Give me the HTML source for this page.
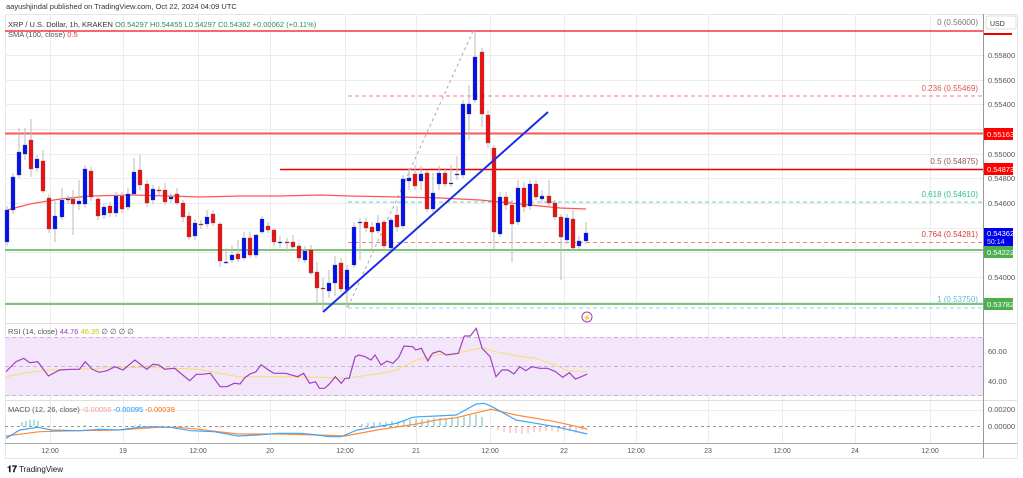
<!DOCTYPE html>
<html><head><meta charset="utf-8"><style>
html,body{margin:0;padding:0;background:#fff;width:1023px;height:478px;overflow:hidden;font-family:"Liberation Sans",sans-serif;}
svg text{font-family:"Liberation Sans",sans-serif;}
</style></head><body>
<svg id="s" width="1023" height="478" xmlns="http://www.w3.org/2000/svg">
<rect x="0" y="0" width="1023" height="478" fill="#fff"/>
<text x="6" y="9" font-size="7.5" fill="#333">aayushjindal published on TradingView.com, Oct 22, 2024 04:09 UTC</text>
<rect x="5.5" y="14.5" width="1012" height="444" fill="none" stroke="#e6e6e6"/>
<g id="grid" stroke="#ececec" stroke-width="1"></g>
<rect x="5" y="337" width="978" height="59" fill="#f3e6fb"/>
<line x1="5" y1="337.5" x2="983" y2="337.5" stroke="#c9b3d6" stroke-dasharray="4,3"/>
<line x1="5" y1="366.5" x2="983" y2="366.5" stroke="#c9b3d6" stroke-dasharray="4,3"/>
<line x1="5" y1="395.5" x2="983" y2="395.5" stroke="#c9b3d6" stroke-dasharray="4,3"/>
<line x1="5" y1="323.5" x2="1017" y2="323.5" stroke="#e0e0e0"/>
<line x1="5" y1="400.5" x2="1017" y2="400.5" stroke="#e0e0e0"/>
<line x1="5" y1="426.5" x2="983" y2="426.5" stroke="#999" stroke-dasharray="3,3"/>
<line x1="5" y1="443.5" x2="1017" y2="443.5" stroke="#aaa"/>
<line x1="983.5" y1="14" x2="983.5" y2="458" stroke="#999"/>
<line x1="5" y1="31" x2="983" y2="31" stroke="#f23645" stroke-width="1.5"/>
<line x1="348" y1="96" x2="983" y2="96" stroke="#f28080" stroke-dasharray="4,3"/>
<line x1="5" y1="133.5" x2="983" y2="133.5" stroke="#f55" stroke-width="2"/>
<line x1="280" y1="169.5" x2="983" y2="169.5" stroke="#e00" stroke-width="1.5"/>
<line x1="348" y1="202" x2="983" y2="202" stroke="#5fd3b0" stroke-dasharray="4,3"/>
<line x1="348" y1="242.5" x2="983" y2="242.5" stroke="#f28080" stroke-dasharray="4,3"/>
<line x1="5" y1="250" x2="983" y2="250" stroke="#7cc47c" stroke-width="2"/>
<line x1="5" y1="304" x2="983" y2="304" stroke="#7cc47c" stroke-width="2"/>
<line x1="348" y1="308" x2="983" y2="308" stroke="#8fd0f0" stroke-dasharray="4,3"/>
<line x1="348" y1="307" x2="473" y2="31" stroke="#aaa" stroke-dasharray="3,3"/>
<g font-size="8" text-anchor="end">
<text x="978" y="25" fill="#777">0 (0.56000)</text>
<text x="978" y="91" fill="#e05555">0.236 (0.55469)</text>
<text x="978" y="164" fill="#8a5a5a">0.5 (0.54875)</text>
<text x="978" y="197" fill="#2fbf90">0.618 (0.54610)</text>
<text x="978" y="237" fill="#d04040">0.764 (0.54281)</text>
<text x="978" y="302" fill="#6ab8e0">1 (0.53750)</text>
</g>
<g id="sma"></g>
<g id="candles"></g>
<line x1="323" y1="312" x2="548" y2="112" stroke="#1a2ee6" stroke-width="2"/>
<circle cx="587" cy="317" r="5" fill="none" stroke="#a040c0"/>
<text x="587" y="320" font-size="7" fill="#a040c0" text-anchor="middle">⚡</text>
<g id="ind"></g>
<text x="8" y="27" font-size="7.5" fill="#333">XRP / U.S. Dollar, 1h, KRAKEN  <tspan fill="#2a8a5a">O0.54297  H0.54455  L0.54297  C0.54362  +0.00062 (+0.11%)</tspan></text>
<text x="8" y="37" font-size="7.5" fill="#555">SMA (100, close)  <tspan fill="#f23645">0.5</tspan></text>
<text x="8" y="334" font-size="7.5" fill="#555">RSI (14, close)  <tspan fill="#a040c0">44.76</tspan>  <tspan fill="#d8c000">46.35</tspan>  ∅  ∅  ∅  ∅</text>
<text x="8" y="412" font-size="7.5" fill="#555">MACD (12, 26, close)  <tspan fill="#f4a0a0">-0.00056</tspan>  <tspan fill="#2196f3">-0.00095</tspan>  <tspan fill="#ff6d00">-0.00039</tspan></text>
<rect x="986" y="16" width="30" height="13" fill="#fff" stroke="#ddd" rx="2"/>
<text x="990" y="26" font-size="7" fill="#333">USD</text>
<line x1="984" y1="34" x2="1012" y2="34" stroke="#e00" stroke-width="2"/>
<g font-size="7.5" fill="#555" id="pax">
<text x="988" y="58">0.55800</text><text x="988" y="83">0.55600</text><text x="988" y="107">0.55400</text>
<text x="988" y="157">0.55000</text><text x="988" y="181">0.54800</text><text x="988" y="206">0.54600</text>
<text x="988" y="280">0.54000</text>
<text x="988" y="354">60.00</text><text x="988" y="384">40.00</text>
<text x="988" y="412">0.00200</text><text x="988" y="429">0.00000</text>
</g>
<rect x="984" y="128" width="29" height="12" fill="#f00"/><text x="987" y="137" font-size="7.5" fill="#fff">0.55163</text>
<rect x="984" y="163" width="29" height="12" fill="#f00"/><text x="987" y="172" font-size="7.5" fill="#fff">0.54873</text>
<rect x="984" y="228" width="29" height="18" fill="#0000f0"/><text x="987" y="236" font-size="7.5" fill="#fff">0.54362</text><text x="987" y="244" font-size="7" fill="#dde">50:14</text>
<rect x="984" y="246" width="29" height="12" fill="#4caf50"/><text x="987" y="255" font-size="7.5" fill="#fff">0.54222</text>
<rect x="984" y="298" width="29" height="12" fill="#4caf50"/><text x="987" y="307" font-size="7.5" fill="#fff">0.53782</text>
<g font-size="7" fill="#555" text-anchor="middle">
<text x="50" y="453">12:00</text><text x="123" y="453">19</text><text x="198" y="453">12:00</text><text x="270" y="453">20</text>
<text x="345" y="453">12:00</text><text x="416" y="453">21</text><text x="490" y="453">12:00</text><text x="564" y="453">22</text>
<text x="636" y="453">12:00</text><text x="708" y="453">23</text><text x="782" y="453">12:00</text><text x="855" y="453">24</text><text x="930" y="453">12:00</text>
</g>
<text x="7" y="472" font-size="9" font-weight="bold" fill="#131722">𝟏𝟕</text>
<text x="19" y="472" font-size="8" fill="#131722">TradingView</text>
</svg>
<script>
var NS="http://www.w3.org/2000/svg";
function el(p,t,a){var e=document.createElementNS(NS,t);for(var k in a)e.setAttribute(k,a[k]);document.getElementById(p).appendChild(e);return e;}
[50,123,198,270,345,416,490,564,636,708,782,855,930].forEach(function(x){el("grid","line",{x1:x+.5,y1:14,x2:x+.5,y2:443});});
for(var p=0.538;p<=0.5581;p+=0.002){var y=Math.round(55+(0.558-p)*12333)+.5;el("grid","line",{x1:5,y1:y,x2:983,y2:y});}
[352,381].forEach(function(y){el("grid","line",{x1:5,y1:y+.5,x2:983,y2:y+.5});});
el("grid","line",{x1:5,y1:410.5,x2:983,y2:410.5});
var C=[[7,210,242,1],[13,177,210,1],[19,152,175,1,128,178],[25,145,154,1,128,160],[31,140,169,0,119,177],[37,159,168,1],[43,161,191,0,150,193],[49,198,229,0],[55,216,229,1,200,242],[62,200,217,1,188,220],[68,199,200,1],[73,199,204,0,190,235],[79,201,204,1,180,210],[85,169,204,1],[91,171,197,0],[98,199,216,0],[104,207,215,1],[110,206,213,0],[116,196,213,1],[122,196,209,0],[128,194,207,1,188,210],[134,172,194,1,158,196],[140,170,185,0,155,190],[147,184,203,0],[153,189,200,1],[159,190,191,0],[165,190,202,0,183,205],[171,197,199,1],[177,194,203,0,188,205],[183,203,217,0,200,222],[189,216,237,0,212,240],[195,223,236,1],[201,224,225,0],[207,217,224,1,210,228],[213,214,223,0,210,226],[220,224,261,0,222,267],[226,262,263,1,248,264],[232,255,260,1,245,263],[238,254,259,0,240,262],[244,238,258,1,232,260],[250,238,255,0,232,258],[256,235,255,1,234,258],[262,219,232,1,216,234],[268,226,230,0,222,233],[274,230,242,0,228,246],[280,242,243,1,236,248],[287,242,243,0,238,252],[293,242,247,0,235,250],[299,246,258,0,243,262],[305,251,260,1,246,263],[311,250,273,0,245,275],[317,272,288,0,262,305],[323,288,289,0,278,310],[329,283,291,1,270,298],[335,265,283,1,256,296],[341,263,289,0,258,292],[347,270,290,1,265,308],[354,227,265,1,222,268],[360,222,223,1,218,260],[366,222,228,0,218,232],[372,227,232,0,222,250],[378,223,231,1,215,234],[384,222,246,0,220,250],[391,220,248,1,218,250],[397,215,227,0,206,232],[403,179,226,1,175,228],[409,178,181,1,168,190],[415,174,186,0,165,190],[421,174,181,1,166,190],[427,173,209,0,170,212],[433,193,209,1,173,212],[439,173,184,1,166,190],[445,173,184,0,168,187],[451,183,184,1,165,187],[457,174,175,1,156,180],[463,104,175,1,100,178],[469,104,114,1,85,140],[475,57,100,1,31,103],[482,52,114,0,48,127],[488,115,143,0,110,148],[494,148,232,0,145,250],[500,197,234,1,192,237],[506,197,205,0,192,210],[512,205,224,0,200,262],[518,188,222,1,180,225],[524,188,207,0,182,212],[530,184,206,1,180,210],[536,184,197,0,180,200],[542,196,199,1,190,203],[549,196,203,0,180,206],[555,203,217,0,200,220],[561,217,237,0,214,280],[567,218,240,1,214,244],[573,219,248,0,210,250],[579,241,246,1,236,250],[586,233,241,1,222,244]];
C.forEach(function(c){var col=c[3]?"#0010f0":"#ee1010";var hi=c[4]||c[1]-4,lo=c[5]||c[2]+4;
el("candles","line",{x1:c[0],y1:hi,x2:c[0],y2:lo,stroke:"#bbb","stroke-width":1});
el("candles","rect",{x:c[0]-2,y:c[1],width:4,height:Math.max(1,c[2]-c[1]),fill:col,stroke:"#555","stroke-width":0.3});});
el("sma","polyline",{points:"7,210 30,204 60,199 90,196 130,195 170,196 200,197 240,196 280,196 320,195 350,196 400,197 440,198 480,200 500,202 530,205 560,208 586,209",fill:"none",stroke:"#f55","stroke-width":1.2});
function P(a){return a.map(function(p){return (p[0]/2.52).toFixed(1)+","+(320+p[1]/3).toFixed(1);}).join(" ");}
var rsi=[[15,155],[40,125],[60,115],[75,128],[95,125],[122,168],[150,150],[180,148],[200,148],[215,125],[232,148],[250,157],[270,152],[290,140],[310,150],[340,120],[370,148],[385,133],[400,135],[415,148],[440,145],[478,182],[495,163],[510,163],[530,160],[555,200],[572,200],[590,190],[605,192],[617,173],[630,162],[645,155],[658,134],[670,145],[690,160],[720,160],[750,170],[765,160],[780,190],[795,185],[805,205],[818,205],[830,192],[845,170],[860,190],[870,175],[880,175],[895,110],[905,105],[920,110],[935,120],[945,105],[960,135],[975,123],[990,130],[1005,112],[1018,78],[1040,80],[1048,90],[1062,85],[1078,123],[1090,100],[1108,93],[1125,105],[1155,100],[1170,48],[1185,48],[1200,25],[1215,85],[1235,110],[1250,170],[1265,150],[1280,150],[1295,162],[1310,140],[1325,152],[1340,140],[1360,145],[1380,145],[1400,155],[1418,172],[1435,158],[1450,177],[1465,170],[1480,162]];
var rma=[[15,170],[60,160],[120,150],[200,148],[300,142],[400,143],[500,148],[600,170],[700,170],[800,172],[870,175],[950,162],[1000,150],[1050,120],[1100,105],[1150,100],[1215,83],[1250,95],[1300,107],[1350,115],[1400,135],[1430,152],[1480,155]];
var mb=[[15,355],[50,330],[95,322],[130,330],[200,332],[250,328],[300,330],[350,322],[390,320],[430,322],[480,332],[540,335],[600,348],[650,345],[700,340],[760,340],[800,345],[830,350],[860,350],[900,330],[950,320],[1000,310],[1040,292],[1060,290],[1100,288],[1150,285],[1200,252],[1220,250],[1240,260],[1300,300],[1350,310],[1400,320],[1480,342]];
var mo=[[15,348],[100,335],[200,332],[300,330],[400,322],[450,322],[500,328],[600,342],[700,342],[800,345],[870,348],[950,330],[1050,312],[1100,300],[1150,293],[1237,268],[1300,285],[1400,305],[1480,327]];
// histogram: positive = above zero (teal), negative = below (red)
var H=[[22,4],[26,5],[30,6],[34,6],[38,5],[85,1],[135,1],[140,2],[190,-1],[200,-2],[210,-2],[220,-2],[230,-1],[270,-1],[300,-2],[320,-2],[340,-2],[362,2],[368,3],[374,4],[380,4],[386,4],[392,5],[398,5],[404,6],[410,6],[416,7],[422,7],[428,7],[434,8],[440,8],[446,8],[452,9],[458,9],[464,10],[470,11],[476,12],[482,9],[498,-4],[504,-6],[510,-7],[516,-7],[522,-8],[528,-7],[534,-6],[540,-6],[546,-5],[552,-5],[558,-6],[564,-5],[570,-5],[576,-7],[582,-4]];
H.forEach(function(h){var y0=426,y1=y0-h[1];el("ind","line",{x1:h[0],y1:y0,x2:h[0],y2:y1,stroke:h[1]>0?"#26a69a":"#f48080","stroke-opacity":0.7});});
el("ind","polyline",{points:P(rma),fill:"none",stroke:"#f5e06a","stroke-width":1});
el("ind","polyline",{points:P(rsi),fill:"none",stroke:"#a040c0","stroke-width":1.2});
el("ind","polyline",{points:P(mo),fill:"none",stroke:"#ff8a3d","stroke-width":1.2});
el("ind","polyline",{points:P(mb),fill:"none",stroke:"#42a5f5","stroke-width":1.2});
</script>
</body></html>
